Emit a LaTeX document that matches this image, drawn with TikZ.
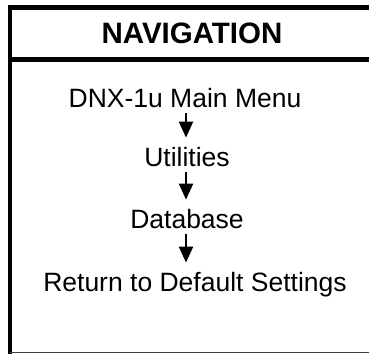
\documentclass[tikz,border=0pt]{standalone}
\usepackage{fontspec}
\setmainfont{Liberation Sans}
\usetikzlibrary{arrows.meta}
\begin{document}
\begin{tikzpicture}[x=1pt,y=-1pt,
  body/.style={font=\fontsize{26.5}{30}\selectfont, inner sep=0pt, anchor=base},
  head/.style={font=\fontsize{29.5}{33}\selectfont\bfseries, inner sep=0pt, anchor=base},
  flow/.style={line width=2.2pt, -{Triangle[width=14pt,length=16pt]}, shorten >=9pt, shorten <=6pt},
  frame/.style={line width=4.5pt, black}]
\useasboundingbox (0,0) rectangle (369,354);
\fill[white] (0,0) rectangle (369,354);
\coordinate (tl) at (7.5,7.5);
\coordinate (tr) at (369,7.5);
\coordinate (lt) at (9.75,5.25);
\coordinate (bl) at (9.75,354);
\coordinate (hl) at (9.75,59.5);
\coordinate (hr) at (369,59.5);
\coordinate (bbl) at (9.75,352.5);
\coordinate (bbr) at (369,352.5);
\draw[frame] (tl) -- (tr);
\draw[frame] (lt) -- (bl);
\draw[frame] (hl) -- (hr);
\draw[line width=1.5pt, black!75] (bbl) -- (bbr);
\node[head] (nav) at (192,43) {NAVIGATION};
\node[body] (m) at (185,107) {DNX-1u Main Menu};
\node[body] (u) at (187,166) {Utilities};
\node[body] (d) at (187,228) {Database};
\node[body] (r) at (195,291) {Return to Default Settings};
\draw[flow] (m.south -| 186,0) -- (u.north -| 186,0);
\draw[flow] (u.south -| 186,0) -- (d.north -| 186,0);
\draw[flow] (d.south -| 186,0) -- (r.north -| 186,0);
\end{tikzpicture}
\end{document}
